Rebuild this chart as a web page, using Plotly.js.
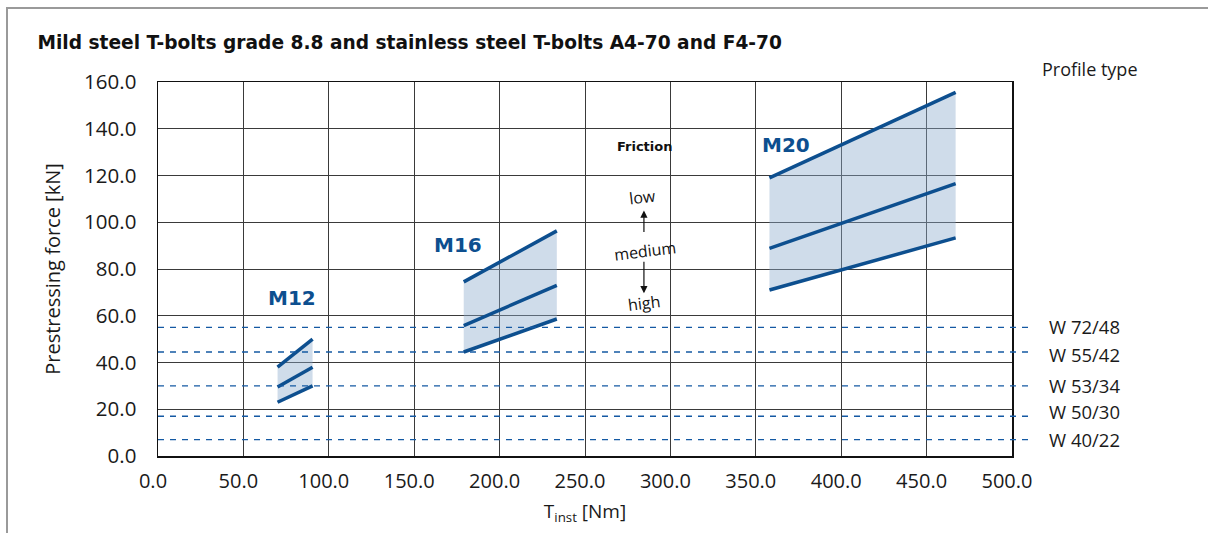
<!DOCTYPE html>
<html>
<head>
<meta charset="utf-8">
<script src="https://cdn.plot.ly/plotly-3.0.1.min.js"></script>
<style>
  html, body { margin: 0; padding: 0; background: #fff; }
  #wrap { position: relative; width: 1208px; height: 533px; overflow: hidden; }
  #chart { width: 1208px; height: 533px; }
  #frame { position: absolute; left: 6px; top: 7px; width: 1300px; height: 700px;
           border-left: 2px solid #9a9a9a; border-top: 2px solid #9a9a9a; pointer-events: none; }
</style>
</head>
<body>
<div id="wrap">
  <div id="chart"></div>
  <div id="frame"></div>
</div>
<script>
// ---- data ----
const boltSizes      = ['M12', 'M16', 'M20'];
const torqueMin      = [70, 179, 358];      // Nm, start of each band
const torqueMax      = [90.5, 233.5, 467];  // Nm, end of each band
const forceLowStart  = [38, 74.5, 119];     // low friction (upper line)
const forceLowEnd    = [50, 96.3, 155.6];
const forceMedStart  = [29.5, 55.8, 88.8];  // medium friction
const forceMedEnd    = [38, 73, 116.5];
const forceHighStart = [23, 44.5, 71];      // high friction (lower line)
const forceHighEnd   = [30, 58.6, 93.3];

const profileTypes   = ['W 72/48', 'W 55/42', 'W 53/34', 'W 50/30', 'W 40/22'];
const profileForce   = [55, 44.5, 30, 17, 7];

const xTicks = [0, 50, 100, 150, 200, 250, 300, 350, 400, 450, 500];
const yTicks = [0, 20, 40, 60, 80, 100, 120, 140, 160];

// ---- styles ----
const BLUE = '#0d4f8f';
const DASHBLUE = '#1459a3';
const FILL = 'rgba(140,172,206,0.42)';
const FONT = 'Open Sans, Noto Sans, sans-serif';
const BOLD = 'DejaVu Sans, sans-serif';
const TXT = '#1a1a1a';
const labelNudge = [1, -3, 0, 4.5, 0.5]; // px, to keep profile labels apart

const traces = [];
boltSizes.forEach((name, i) => {
  traces.push({
    type: 'scatter', mode: 'lines', hoverinfo: 'skip', showlegend: false,
    x: [torqueMin[i], torqueMax[i], torqueMax[i], torqueMin[i], torqueMin[i]],
    y: [forceLowStart[i], forceLowEnd[i], forceHighEnd[i], forceHighStart[i], forceLowStart[i]],
    fill: 'toself', fillcolor: FILL, line: { width: 0 }
  });
  [[forceLowStart, forceLowEnd], [forceMedStart, forceMedEnd], [forceHighStart, forceHighEnd]].forEach(pair => {
    traces.push({
      type: 'scatter', mode: 'lines', showlegend: false, name: name,
      x: [torqueMin[i], torqueMax[i]],
      y: [pair[0][i], pair[1][i]],
      line: { color: BLUE, width: 3.5 }
    });
  });
});

const shapes = profileForce.map(v => ({
  type: 'line', xref: 'paper', yref: 'y', x0: 0, x1: 1.022, y0: v, y1: v,
  line: { color: DASHBLUE, width: 1.3, dash: '6px,6px' }, layer: 'above'
}));

const annotations = [];
profileTypes.forEach((t, i) => {
  annotations.push({
    xref: 'paper', yref: 'y', x: 1.041, y: profileForce[i], xanchor: 'left', yanchor: 'middle',
    yshift: labelNudge[i],
    text: t, showarrow: false, font: { family: FONT, size: 18.5, color: TXT }
  });
});
annotations.push({
  xref: 'paper', yref: 'paper', x: 1.033, y: 1.035, xanchor: 'left', yanchor: 'middle',
  text: 'Profile type', showarrow: false, font: { family: FONT, size: 18, color: TXT }
});
// bolt labels
const labelPos = [[78.5, 67.6], [175.8, 90.3], [367.5, 133]];
boltSizes.forEach((name, i) => {
  annotations.push({
    x: labelPos[i][0], y: labelPos[i][1], text: '<b>' + name + '</b>', showarrow: false,
    font: { family: BOLD, size: 20, color: BLUE }
  });
});
// friction legend
annotations.push({ x: 285, y: 132.2, text: '<b>Friction</b>', showarrow: false,
  font: { family: BOLD, size: 13, color: '#111' } });
annotations.push({ x: 283.5, y: 111, text: 'low', showarrow: false, textangle: -7,
  font: { family: FONT, size: 16, color: '#111' } });
annotations.push({ x: 285, y: 87.8, text: 'medium', showarrow: false, textangle: -7,
  font: { family: FONT, size: 16, color: '#111' } });
annotations.push({ x: 284.5, y: 65.4, text: 'high', showarrow: false, textangle: -7,
  font: { family: FONT, size: 16, color: '#111' } });
annotations.push({ x: 284.5, y: 105, ax: 0, ay: 23, text: '', showarrow: true,
  arrowhead: 2, arrowsize: 1.2, arrowwidth: 1.2, arrowcolor: '#111' });
annotations.push({ x: 284.5, y: 69.6, ax: 0, ay: -33, text: '', showarrow: true,
  arrowhead: 2, arrowsize: 1.2, arrowwidth: 1.2, arrowcolor: '#111' });

const layout = {
  width: 1208, height: 533,
  margin: { l: 158, r: 196, t: 82, b: 77 },
  paper_bgcolor: '#fff', plot_bgcolor: '#fff',
  showlegend: false,
  font: { family: FONT, color: TXT },
  title: {
    text: '<b>Mild steel T-bolts grade 8.8 and stainless steel T-bolts A4-70 and F4-70</b>',
    xref: 'container', yref: 'container', x: 0.031, xanchor: 'left', y: 0.921, yanchor: 'middle',
    font: { family: BOLD, size: 18.6, color: '#111' }
  },
  xaxis: {
    range: [0, 500], tickvals: xTicks, ticktext: xTicks.map(v => v.toFixed(1)),
    showgrid: true, gridcolor: '#3a3a3a', gridwidth: 1,
    showline: true, linecolor: '#111', linewidth: 1.5, mirror: true,
    ticks: '', zeroline: false, ticklabelstandoff: 6, ticklabelshift: -5,
    tickfont: { family: FONT, size: 20, color: TXT },
    title: { text: 'T<sub>inst</sub> [Nm]', standoff: 12, font: { family: FONT, size: 19, color: TXT } }
  },
  yaxis: {
    range: [0, 160], tickvals: yTicks, ticktext: yTicks.map(v => v.toFixed(1)),
    showgrid: true, gridcolor: '#3a3a3a', gridwidth: 1,
    showline: true, linecolor: '#111', linewidth: 1.5, mirror: true,
    ticks: '', zeroline: false, ticklabelstandoff: 16,
    tickfont: { family: FONT, size: 20.5, color: TXT },
    title: { text: 'Prestressing force [kN]', standoff: 18, font: { family: FONT, size: 20, color: TXT } }
  },
  shapes: shapes,
  annotations: annotations
};

Plotly.newPlot('chart', traces, layout, { displayModeBar: false, staticPlot: true });
</script>
</body>
</html>
